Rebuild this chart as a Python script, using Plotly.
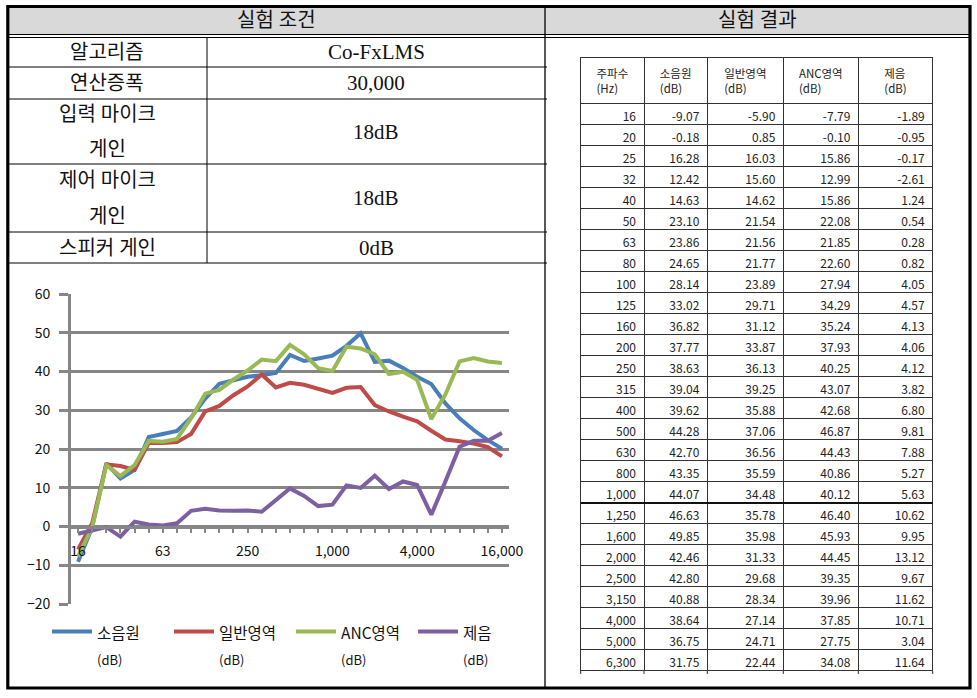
import plotly.graph_objects as go

W, H = 977, 698

# ---------------- data ----------------
freq_labels = ["16", "20", "25", "32", "40", "50", "63", "80", "100", "125", "160", "200",
               "250", "315", "400", "500", "630", "800", "1,000", "1,250", "1,600", "2,000",
               "2,500", "3,150", "4,000", "5,000", "6,300", "8,000", "10,000", "12,500", "16,000"]
noise_src = [-9.07, -0.18, 16.28, 12.42, 14.63, 23.10, 23.86, 24.65, 28.14, 33.02, 36.82, 37.77,
             38.63, 39.04, 39.62, 44.28, 42.70, 43.35, 44.07, 46.63, 49.85, 42.46, 42.80, 40.88,
             38.64, 36.75, 31.75, 27.9, 24.9, 22.3, 20.1]
general = [-5.90, 0.85, 16.03, 15.60, 14.62, 21.54, 21.56, 21.77, 23.89, 29.71, 31.12, 33.87,
           36.13, 39.25, 35.88, 37.06, 36.56, 35.59, 34.48, 35.78, 35.98, 31.33, 29.68, 28.34,
           27.14, 24.71, 22.44, 22.0, 21.4, 20.5, 18.1]
anc = [-7.79, -0.10, 15.86, 12.99, 15.86, 22.08, 21.85, 22.60, 27.94, 34.29, 35.24, 37.93,
       40.25, 43.07, 42.68, 46.87, 44.43, 40.86, 40.12, 46.40, 45.93, 44.45, 39.35, 39.96,
       37.85, 27.75, 34.08, 42.6, 43.5, 42.6, 42.2]
reduction = [-1.89, -0.95, -0.17, -2.61, 1.24, 0.54, 0.28, 0.82, 4.05, 4.57, 4.13, 4.06,
             4.12, 3.82, 6.80, 9.81, 7.88, 5.27, 5.63, 10.62, 9.95, 13.12, 9.67, 11.62,
             10.71, 3.04, 11.64, 20.6, 22.1, 22.1, 24.1]
series_names = ["소음원", "일반영역", "ANC영역", "제음"]
series_unit = "(dB)"
table_rows = 27  # rows visible in the result table (16 .. 6,300 Hz)
table_headers = ["주파수<br>(Hz)", "소음원<br>(dB)", "일반영역<br>(dB)", "ANC영역<br>(dB)", "제음<br>(dB)"]

cond_title = "실험 조건"
result_title = "실험 결과"
cond_labels = [["알고리즘"], ["연산증폭"], ["입력 마이크", "게인"], ["제어 마이크", "게인"], ["스피커 게인"]]
cond_values = ["Co-FxLMS", "30,000", "18dB", "18dB", "0dB"]

y_ticks = [-20, -10, 0, 10, 20, 30, 40, 50, 60]

# ---------------- helpers ----------------
def px(x):
    return x / W


def py(y):
    return 1 - y / H


KR = "Noto Sans CJK KR"
SERIF = "Liberation Serif, Noto Sans CJK KR"
colors = ["#4A7EBB", "#BE4B48", "#98B954", "#7D60A0"]

fig = go.Figure()

# ---------------- chart ----------------
xs = list(range(len(freq_labels)))
for name, vals, col in zip(series_names, [noise_src, general, anc, reduction], colors):
    fig.add_trace(go.Scatter(
        x=xs, y=vals, mode="lines", line=dict(color=col, width=4),
        name=f"<span style='font-size:15.5px'>{name}</span><br><span style='font-size:13px'>{series_unit}</span>",
        hoverinfo="skip"))

ydom = [py(604), py(294)]
zero_pos = ydom[0] + (0 - y_ticks[0]) / (y_ticks[-1] - y_ticks[0]) * (ydom[1] - ydom[0])

fig.update_layout(
    xaxis=dict(domain=[px(71), px(509)], range=[-0.5, len(xs) - 0.5],
               anchor="free", position=zero_pos,
               tickvals=xs, ticktext=[l if i % 6 == 0 else "" for i, l in enumerate(freq_labels)],
               ticks="outside", ticklen=5, tickwidth=1.5, tickcolor="#868686",
               showline=True, linecolor="#868686", linewidth=2.5,
               showgrid=False, zeroline=False, ticklabelstandoff=6,
               tickfont=dict(family=KR, size=14, color="#111")),
    yaxis=dict(domain=ydom, range=[y_ticks[0], y_ticks[-1]], tickvals=y_ticks,
               ticks="outside", ticklen=9, tickwidth=2.5, tickcolor="#868686",
               showline=True, linecolor="#868686", linewidth=3,
               showgrid=True, gridcolor="#868686", gridwidth=2.5, zeroline=False,
               ticklabelstandoff=6,
               tickfont=dict(family=KR, size=14, color="#111")),
)

# ---------------- result table ----------------
col_w = [63.3, 63.3, 76, 75, 74.4]
tbl_left, tbl_top = 580.7, 57
hdr_h, row_h = 46, 21
hdr_drawn = 47  # header height as rendered (text needs slightly more than hdr_h)
tbl_bottom = tbl_top + hdr_drawn + row_h * table_rows
fig.add_trace(go.Table(
    domain=dict(x=[px(tbl_left), px(tbl_left + sum(col_w))], y=[py(tbl_bottom + 16), py(tbl_top)]),
    columnwidth=col_w,
    header=dict(values=table_headers, height=hdr_h, align="center",
                fill=dict(color="white"), line=dict(color="#333", width=1),
                font=dict(family=KR, size=11.5, color="#222")),
    cells=dict(values=[freq_labels[:table_rows], noise_src[:table_rows], general[:table_rows],
                       anc[:table_rows], reduction[:table_rows]],
               format=[None, ".2f", ".2f", ".2f", ".2f"],
               height=row_h, align="right",
               fill=dict(color="white"), line=dict(color="#333", width=1),
               font=dict(family=KR, size=12, color="#222")),
))

P = dict(xref="paper", yref="paper")
shapes = []
# thicker rule under the 1,000 Hz row
y1000 = tbl_top + hdr_drawn + row_h * (freq_labels.index("1,000") + 1)
shapes.append(dict(type="line", x0=px(tbl_left), x1=px(tbl_left + sum(col_w)), y0=py(y1000), y1=py(y1000),
                   line=dict(color="#111", width=2), **P))
# stubs of the cut-off row below the table
edges = [tbl_left]
for w in col_w:
    edges.append(edges[-1] + w)
for xb in edges:
    shapes.append(dict(type="line", x0=px(xb), x1=px(xb), y0=py(tbl_bottom), y1=py(tbl_bottom + 3),
                       line=dict(color="#333", width=1), **P))

# ---------------- frame / conditions table ----------------
L, R, T, B = 7.8, 970, 6.5, 688
MID = 545
shapes.append(dict(type="rect", x0=px(L), x1=px(R), y0=py(T), y1=py(34.5),
                   fillcolor="#D9D9D9", line=dict(width=0), layer="below", **P))
for yy in (34.5, 37.5):
    shapes.append(dict(type="line", x0=px(L), x1=px(R), y0=py(yy), y1=py(yy),
                       line=dict(color="#000", width=1), **P))
shapes.append(dict(type="line", x0=px(MID), x1=px(MID), y0=py(T), y1=py(B),
                   line=dict(color="#000", width=1.3), **P))

row_edges = [37.5, 67, 99, 164, 232, 263]
split_x = 207
for yy in row_edges[1:]:
    shapes.append(dict(type="line", x0=px(L), x1=px(MID + 2), y0=py(yy), y1=py(yy),
                       line=dict(color="#000", width=1), **P))
shapes.append(dict(type="line", x0=px(split_x), x1=px(split_x), y0=py(row_edges[0]), y1=py(row_edges[-1]),
                   line=dict(color="#000", width=1), **P))
shapes.append(dict(type="rect", x0=px(L), x1=px(R), y0=py(T), y1=py(B),
                   line=dict(color="#000", width=3.2), **P))

A = dict(xref="paper", yref="paper", showarrow=False, xanchor="center", yanchor="middle")
annotations = []
annotations.append(dict(text=cond_title, x=px((L + MID) / 2), y=py(20.5),
                        font=dict(family=SERIF, size=20, color="#111"), **A))
annotations.append(dict(text=result_title, x=px((MID + R) / 2), y=py(20.5),
                        font=dict(family=SERIF, size=20, color="#111"), **A))
for i, (labs, val) in enumerate(zip(cond_labels, cond_values)):
    yc = (row_edges[i] + row_edges[i + 1]) / 2
    n = len(labs)
    for j, lab in enumerate(labs):
        yl = yc + (j - (n - 1) / 2) * 36
        annotations.append(dict(text=lab, x=px((L + split_x) / 2), y=py(yl),
                                font=dict(family=SERIF, size=20, color="#111"), **A))
    annotations.append(dict(text=val, x=px((split_x + MID) / 2), y=py(yc),
                            font=dict(family=SERIF, size=21, color="#111"), **A))

fig.update_layout(
    width=W, height=H, margin=dict(l=0, r=0, t=0, b=0, autoexpand=False),
    paper_bgcolor="white", plot_bgcolor="white",
    shapes=shapes, annotations=annotations,
    showlegend=True,
    legend=dict(orientation="h", x=px(47), y=py(612), xanchor="left", yanchor="top",
                entrywidth=67, entrywidthmode="pixels", valign="top",
                font=dict(family=KR, size=20, color="#111"), bgcolor="rgba(0,0,0,0)",
                tracegroupgap=0, itemwidth=40),
)

fig.write_html("out.html", config={"displayModeBar": False},
               post_script="document.body.style.margin='0';")
